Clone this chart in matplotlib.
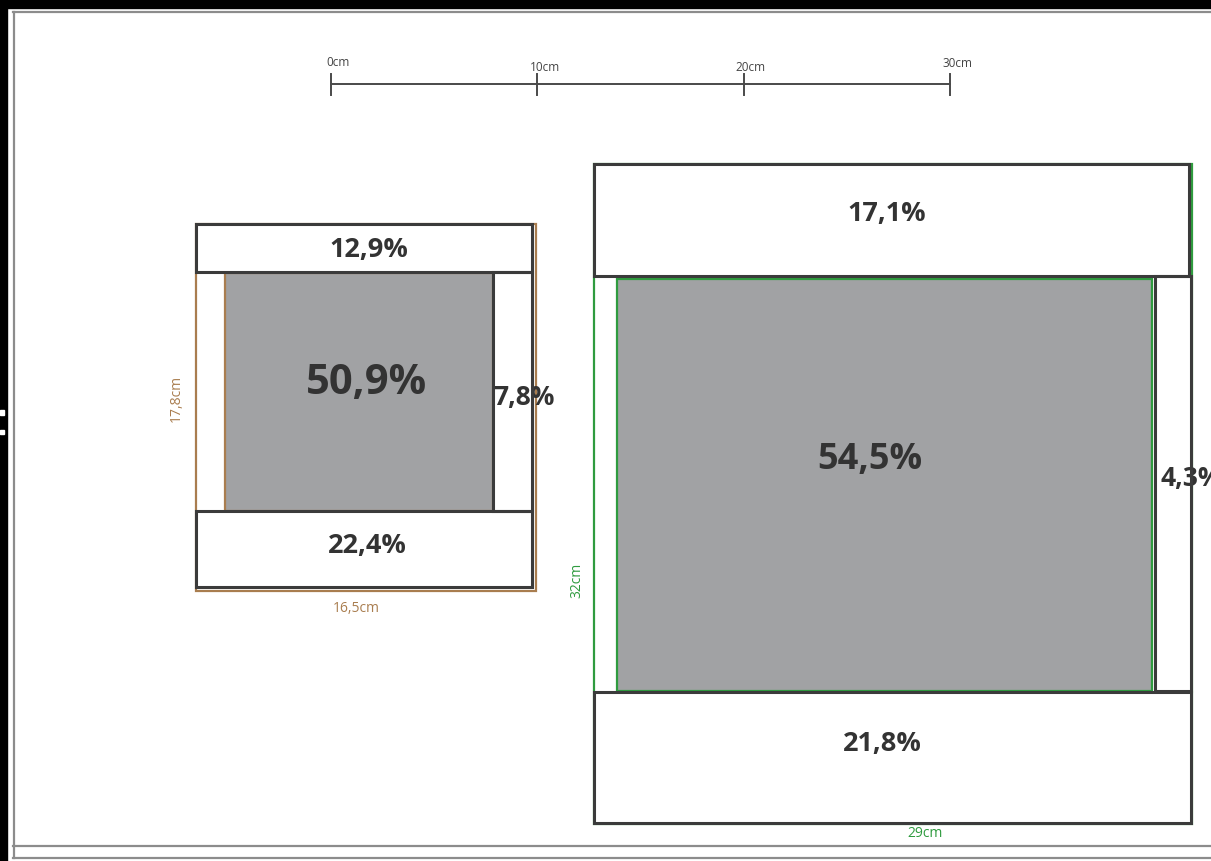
import matplotlib
matplotlib.use("Agg")
import matplotlib.pyplot as plt
from matplotlib.patches import Rectangle
from matplotlib.lines import Line2D

# ---------------- data (cm) ----------------
scale_ticks = [0, 10, 20, 30]
scale_labels = ["0cm", "10cm", "20cm", "30cm"]
scale_label_dy = [-1.02, -0.82, -0.82, -0.97]

# small screen: overall size, origin on the page (cm)
small_size = (16.5, 17.8)
small_origin = (-6.54, 6.79)
small_dim_labels = ["16,5cm", "17,8cm"]
# parts: x-offset, y-offset, width, height
small_names = ["top", "screen", "right", "bottom"]
small_x = [0.0, 1.41, 14.40, 0.0]
small_y = [0.0, 2.37, 2.33, 13.91]
small_w = [16.29, 12.99, 1.89, 16.29]
small_h = [2.33, 11.54, 11.59, 3.68]
small_pct = ["12,9%", "50,9%", "7,8%", "22,4%"]

# large screen
large_size = (29.0, 32.0)
large_origin = (12.75, 3.88)
large_dim_labels = ["29cm", "32cm"]
large_names = ["top", "screen", "right", "bottom"]
large_x = [0.0, 1.115, 27.19, 0.0]
large_y = [0.0, 5.57, 5.43, 25.59]
large_w = [28.84, 25.93, 1.76, 28.95]
large_h = [5.43, 19.97, 20.12, 6.35]
large_pct = ["17,1%", "54,5%", "4,3%", "21,8%"]

# ---------------- style ----------------
DARK = "#3b3b3b"
GRAY = "#a1a2a4"
BROWN = "#a97d4f"
GREEN = "#2f9b3f"
TXT = "#333333"
FONT = ["Open Sans", "DejaVu Sans"]

W, H = 1211, 861
S = 20.63  # px per cm
fig = plt.figure(figsize=(W / 100, H / 100), dpi=100)
ax = fig.add_axes([0, 0, 1, 1])
x0 = -331 / S
y0 = -84 / S
ax.set_xlim(x0, x0 + W / S)
ax.set_ylim(y0 + H / S, y0)
ax.axis("off")

# page decoration: black scan edges and gray frame
ax.add_patch(Rectangle((0, 0), 7 / W, 1, transform=ax.transAxes, color="black", zorder=0))
ax.add_patch(Rectangle((0, 1 - 8 / H), 1, 8 / H, transform=ax.transAxes, color="black", zorder=0))
for yy in (1 - 412 / H, 1 - 432 / H):
    ax.add_patch(Rectangle((0, yy - 2.5 / H), 4 / W, 5 / H, transform=ax.transAxes,
                           color="white", zorder=1))
fc = "#8c8c8c"
for (xs, ys) in [((13.5 / W, 13.5 / W), (1 - 12 / H, 1 - 858 / H)),
                 ((13 / W, 1), (1 - 12 / H, 1 - 12 / H)),
                 ((13 / W, 1), (1 - 846 / H, 1 - 846 / H)),
                 ((13 / W, 1), (1 - 858 / H, 1 - 858 / H))]:
    ax.add_line(Line2D(xs, ys, transform=ax.transAxes, color=fc, lw=1.6, zorder=1))

# scale bar
ax.plot([scale_ticks[0], scale_ticks[-1]], [0, 0], color="#4a4a4a", lw=1.4, zorder=3)
for t, lab, dy in zip(scale_ticks, scale_labels, scale_label_dy):
    ax.plot([t, t], [-0.49, 0.53], color="#4a4a4a", lw=1.4, zorder=3)
    ax.text(t + 0.35, dy, lab, ha="center", va="center", fontsize=8.5,
            color="#444444", family=FONT)


def draw_screen(origin, size, xs, ys, ws, hs, pcts, outline, pct_fs, text_pos):
    ox, oy = origin
    sw, sh = size
    # coloured outline of the overall size
    ax.add_patch(Rectangle((ox, oy), sw, sh, fill=False, ec=outline, lw=1.6, zorder=1))
    for i, (x, y, w, h) in enumerate(zip(xs, ys, ws, hs)):
        if i == 1:
            ax.add_patch(Rectangle((ox + x, oy + y), w, h, fc=GRAY, ec=outline,
                                   lw=1.6, zorder=2))
        else:
            ax.add_patch(Rectangle((ox + x, oy + y), w, h, fc="white", ec="none", zorder=2))
            ax.add_patch(Rectangle((ox + x, oy + y), w, h, fill=False, ec=DARK,
                                   lw=2.2, zorder=6))
    for i, p in enumerate(pcts):
        tx, ty, ha = text_pos[i]
        ax.text(ox + tx, oy + ty, p, ha=ha, va="center", fontsize=pct_fs[i],
                fontweight="bold", color=TXT, family=FONT, zorder=4)


draw_screen(small_origin, small_size, small_x, small_y, small_w, small_h, small_pct,
            BROWN, [19.5, 30, 19, 19.5],
            [(8.38, 1.27, "center"), (8.24, 7.75, "center"),
             (14.40, 8.40, "left"), (8.30, 15.62, "center")])
draw_screen(large_origin, large_size, large_x, large_y, large_w, large_h, large_pct,
            GREEN, [19.5, 26, 19, 19.5],
            [(14.20, 2.40, "center"), (13.38, 14.35, "center"),
             (27.44, 15.22, "left"), (13.96, 28.12, "center")])

# dimension labels
ax.text(small_origin[0] + 7.75, small_origin[1] + small_size[1] + 0.85,
        small_dim_labels[0], ha="center", va="center", fontsize=10, color=BROWN, family=FONT)
ax.text(small_origin[0] - 0.97, small_origin[1] + 8.43, small_dim_labels[1], ha="center",
        va="center", fontsize=10, color=BROWN, family=FONT, rotation=90)
ax.text(large_origin[0] + 16.04, large_origin[1] + large_size[1] + 0.43,
        large_dim_labels[0], ha="center", va="center", fontsize=10, color=GREEN, family=FONT)
ax.text(large_origin[0] - 0.83, large_origin[1] + 20.16, large_dim_labels[1], ha="center",
        va="center", fontsize=10, color=GREEN, family=FONT, rotation=90)

fig.savefig("out.png", dpi=100)
